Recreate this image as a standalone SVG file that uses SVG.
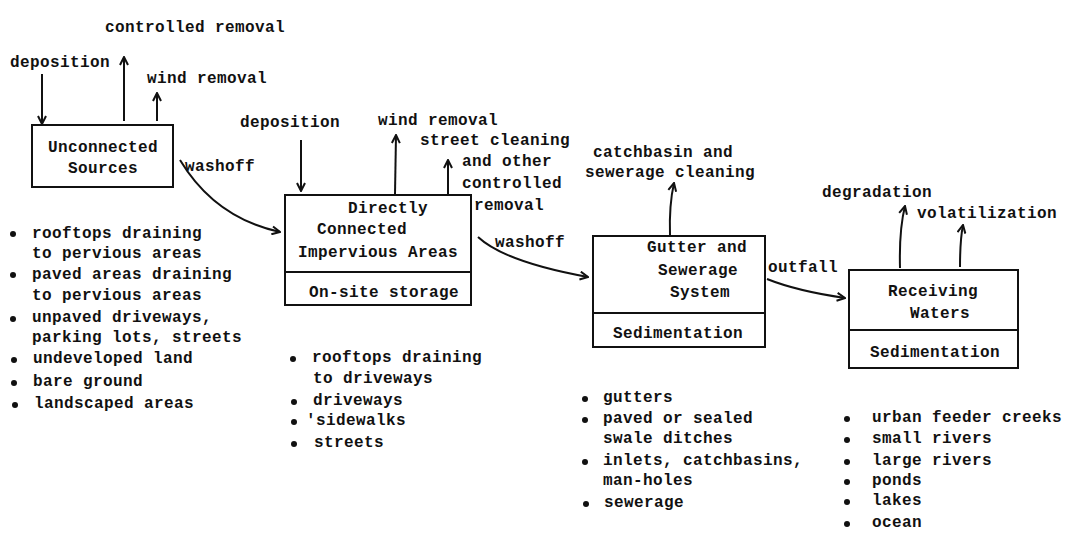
<svg xmlns="http://www.w3.org/2000/svg" width="1078" height="540" viewBox="0 0 1078 540">
<defs>
<style>
text{font-family:"Liberation Mono","DejaVu Sans Mono",monospace;font-size:16px;font-weight:bold;letter-spacing:0.4px;fill:#111}
.box{fill:#fff;stroke:#111;stroke-width:2}
.ln{fill:none;stroke:#111;stroke-width:2}
.bul{fill:#111}
</style>
<marker id="ah" viewBox="0 0 10 10" refX="9" refY="5" markerWidth="10" markerHeight="10" markerUnits="userSpaceOnUse" orient="auto">
<path d="M1,1 L9,5 L1,9" fill="none" stroke="#111" stroke-width="2"/>
</marker>
</defs>
<rect width="1078" height="540" fill="#fff"/>

<g id="n1">
<rect class="box" x="32" y="125" width="141" height="62"/>
<text x="48" y="152">Unconnected</text>
<text x="68" y="173">Sources</text>
</g>

<g id="n2">
<rect class="box" x="285" y="195" width="186" height="110"/>
<line class="ln" x1="285" y1="272" x2="471" y2="272"/>
<text x="348" y="213">Directly</text>
<text x="317" y="234">Connected</text>
<text x="298" y="257">Impervious Areas</text>
<text x="309" y="297">On-site storage</text>
</g>

<g id="n3">
<rect class="box" x="593" y="236" width="172" height="111"/>
<line class="ln" x1="593" y1="313" x2="765" y2="313"/>
<text x="647" y="252">Gutter and</text>
<text x="658" y="275">Sewerage</text>
<text x="670" y="297">System</text>
<text x="613" y="338">Sedimentation</text>
</g>

<g id="n4">
<rect class="box" x="849" y="270" width="169" height="98"/>
<line class="ln" x1="849" y1="330" x2="1018" y2="330"/>
<text x="888" y="296">Receiving</text>
<text x="910" y="318">Waters</text>
<text x="870" y="357">Sedimentation</text>
</g>

<g id="connectors">
<line class="ln" x1="42" y1="74" x2="42" y2="124" marker-end="url(#ah)"/>
<line class="ln" x1="124" y1="121" x2="124" y2="57" marker-end="url(#ah)"/>
<line class="ln" x1="157" y1="121" x2="157" y2="93" marker-end="url(#ah)"/>
<path class="ln" d="M180,160 Q215,218 280,232" marker-end="url(#ah)"/>
<line class="ln" x1="301" y1="140" x2="301" y2="191" marker-end="url(#ah)"/>
<line class="ln" x1="395" y1="194" x2="396" y2="135" marker-end="url(#ah)"/>
<line class="ln" x1="448" y1="194" x2="448" y2="160" marker-end="url(#ah)"/>
<path class="ln" d="M478,237 Q505,262 588,277" marker-end="url(#ah)"/>
<path class="ln" d="M670,235 Q669,205 674,183" marker-end="url(#ah)"/>
<path class="ln" d="M767,279 Q797,291 845,298" marker-end="url(#ah)"/>
<path class="ln" d="M900,268 Q899,230 905,206" marker-end="url(#ah)"/>
<path class="ln" d="M960,267 Q960,240 963,225" marker-end="url(#ah)"/>
</g>

<g id="labels">
<text x="105" y="32">controlled removal</text>
<text x="10" y="67">deposition</text>
<text x="147" y="83">wind removal</text>
<text x="185" y="171">washoff</text>
<text x="240" y="127">deposition</text>
<text x="378" y="125">wind removal</text>
<text x="420" y="145">street cleaning</text>
<text x="462" y="166">and other</text>
<text x="462" y="188">controlled</text>
<text x="474" y="210">removal</text>
<text x="495" y="247">washoff</text>
<text x="593" y="157">catchbasin and</text>
<text x="585" y="177">sewerage cleaning</text>
<text x="768" y="272">outfall</text>
<text x="822" y="197">degradation</text>
<text x="917" y="218">volatilization</text>
</g>

<g id="list1">
<circle class="bul" cx="13" cy="234" r="3"/>
<text x="32" y="238">rooftops draining</text>
<text x="32" y="258">to pervious areas</text>
<circle class="bul" cx="13" cy="275" r="3"/>
<text x="32" y="279">paved areas draining</text>
<text x="32" y="300">to pervious areas</text>
<circle class="bul" cx="13" cy="319" r="3"/>
<text x="32" y="322">unpaved driveways,</text>
<text x="32" y="342">parking lots, streets</text>
<circle class="bul" cx="14" cy="360" r="3"/>
<text x="33" y="363">undeveloped land</text>
<circle class="bul" cx="14" cy="383" r="3"/>
<text x="33" y="386">bare ground</text>
<circle class="bul" cx="15" cy="405" r="3"/>
<text x="34" y="408">landscaped areas</text>
</g>

<g id="list2">
<circle class="bul" cx="293" cy="359" r="3"/>
<text x="312" y="362">rooftops draining</text>
<text x="313" y="383">to driveways</text>
<circle class="bul" cx="294" cy="402" r="3"/>
<text x="313" y="405">driveways</text>
<circle class="bul" cx="294" cy="422" r="3"/>
<text x="306" y="425">'sidewalks</text>
<circle class="bul" cx="294" cy="444" r="3"/>
<text x="314" y="447">streets</text>
</g>

<g id="list3">
<circle class="bul" cx="585" cy="399" r="3"/>
<text x="603" y="402">gutters</text>
<circle class="bul" cx="585" cy="420" r="3"/>
<text x="603" y="423">paved or sealed</text>
<text x="603" y="443">swale ditches</text>
<circle class="bul" cx="585" cy="462" r="3"/>
<text x="603" y="465">inlets, catchbasins,</text>
<text x="603" y="485">man-holes</text>
<circle class="bul" cx="586" cy="504" r="3"/>
<text x="604" y="507">sewerage</text>
</g>

<g id="list4">
<circle class="bul" cx="847" cy="419" r="3"/>
<text x="872" y="422">urban feeder creeks</text>
<circle class="bul" cx="847" cy="440" r="3"/>
<text x="872" y="443">small rivers</text>
<circle class="bul" cx="847" cy="462" r="3"/>
<text x="872" y="465">large rivers</text>
<circle class="bul" cx="847" cy="482" r="3"/>
<text x="872" y="485">ponds</text>
<circle class="bul" cx="847" cy="502" r="3"/>
<text x="872" y="505">lakes</text>
<circle class="bul" cx="847" cy="524" r="3"/>
<text x="872" y="527">ocean</text>
</g>
</svg>
